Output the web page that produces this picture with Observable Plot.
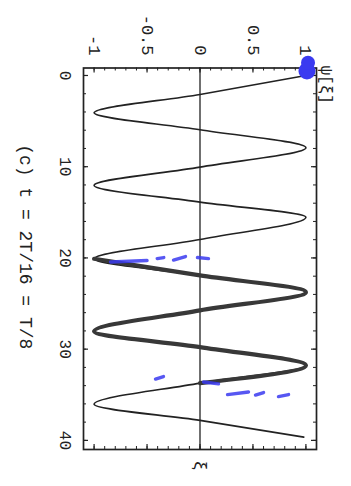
<!DOCTYPE html>
<html><head><meta charset="utf-8">
<script src="https://cdn.jsdelivr.net/npm/d3@7"></script>
<script src="https://cdn.jsdelivr.net/npm/@observablehq/plot@0.6"></script>
<style>html,body{margin:0;padding:0;background:#fff;overflow:hidden}</style>
</head><body><div id="chart"></div>
<script>
// wave psi(xi): extrema and zero crossings
const xiValues  = [0, 2.08, 4.09, 5.95, 7.92, 10.05, 12.05, 13.88, 15.53, 17.98, 20.09, 21.92, 23.75, 25.75, 28.05, 29.78, 31.78, 33.72, 36.05, 37.81, 39.64];
const psiValues = [1, 0, -1, 0, 1, 0, -1, 0, 1, 0, -1, 0, 1, 0, -1, 0, 1, 0, -1, 0, 0.98];
// stretch of the curve drawn with a heavy stroke
const thickFrom = 20.09, thickTo = 33.72;

// hand-drawn blue pen strokes on the scan (xi, psi pairs)
const penXi  = [[20.45, 20.28], [20.07, 19.96], [20.23, 19.85], [19.96, 20.07], [33.28, 33.0], [33.6, 33.8], [34.98, 34.70], [35.03, 34.76], [35.2, 34.98]];
const penPsi = [[-0.845, -0.50], [-0.404, -0.342], [-0.25, -0.137], [-0.024, 0.08], [-0.42, -0.345], [0.033, 0.175], [0.26, 0.458], [0.524, 0.60], [0.741, 0.836]];
const blobXi  = [-0.5, -1.4];
const blobPsi = [1.01, 1.02];

// ticks and labels
const psiTickValues = [-1, -0.5, 0, 0.5, 1];
const psiTickLabels = ["-1", "-0.5", "0", "0.5", "1"];
const psiMinorTicks = d3.range(-10, 11).map(i => i / 10);
const xiTickValues = [0, 10, 20, 30, 40];
const xiTickLabels = ["0", "10", "20", "30", "40"];
const xiMinorTicks = d3.range(0, 21).map(i => i * 2);
const yLabel = "ψ[ξ]";
const xLabel = "ξ";
const caption = "(c) t = 2T/16 = T/8";

const W = 351, H = 486;
const mL = 83, mR = 35, mT = 67.5, mB = 37;
const FW = W - mL - mR, FH = H - mT - mB;
const ink = "#222";
const blue = "#3a3af0";

const wave = xiValues.map((x, i) => ({xi: x, psi: psiValues[i]}));
const thick = wave.filter(d => d.xi >= thickFrom && d.xi <= thickTo);
const pen = [];
penXi.forEach((seg, k) => seg.forEach((x, j) => pen.push({id: k, xi: x, psi: penPsi[k][j]})));
const blobs = blobXi.map((x, i) => ({xi: x, psi: blobPsi[i]}));
const psiLab = psiTickValues.map((v, i) => ({v, t: psiTickLabels[i]}));
const xiLab = xiTickValues.map((v, i) => ({v, t: xiTickLabels[i]}));
const psiMajor = psiMinorTicks.filter(v => Math.abs(v * 2 - Math.round(v * 2)) < 1e-9);
const xiMajor = xiMinorTicks.filter(v => v % 10 === 0);

const plot = Plot.plot({
  width: W, height: H,
  marginLeft: mL, marginRight: mR, marginTop: mT, marginBottom: mB,
  x: {domain: [-1.1, 1.1], axis: null},
  y: {domain: [-0.82, 41], reverse: true, axis: null},
  style: {fontFamily: "'Liberation Mono', 'Courier New', monospace", background: "#fff", color: ink, overflow: "visible"},
  marks: [
    Plot.ruleX([0], {stroke: "#333", strokeWidth: 1.4}),
    // inward frame ticks on all four sides
    Plot.tickX(psiMinorTicks, {x: d => d, insetBottom: FH - 3, stroke: ink, strokeWidth: 1}),
    Plot.tickX(psiMinorTicks, {x: d => d, insetTop: FH - 3, stroke: ink, strokeWidth: 1}),
    Plot.tickX(psiMajor, {x: d => d, insetBottom: FH - 5, stroke: ink, strokeWidth: 1.2}),
    Plot.tickX(psiMajor, {x: d => d, insetTop: FH - 5, stroke: ink, strokeWidth: 1.2}),
    Plot.tickY(xiMinorTicks, {y: d => d, insetRight: FW - 3, stroke: ink, strokeWidth: 1}),
    Plot.tickY(xiMinorTicks, {y: d => d, insetLeft: FW - 3, stroke: ink, strokeWidth: 1}),
    Plot.tickY(xiMajor, {y: d => d, insetRight: FW - 5, stroke: ink, strokeWidth: 1.2}),
    Plot.tickY(xiMajor, {y: d => d, insetLeft: FW - 5, stroke: ink, strokeWidth: 1.2}),
    Plot.frame({stroke: ink, strokeWidth: 1.7}),
    Plot.line(wave, {x: "psi", y: "xi", curve: "monotone-y", stroke: ink, strokeWidth: 1.6}),
    Plot.line(thick, {x: "psi", y: "xi", curve: "monotone-y", stroke: "#383838", strokeWidth: 4.2}),
    Plot.line(pen, {x: "psi", y: "xi", z: "id", stroke: blue, strokeWidth: 3.4, strokeOpacity: 0.85, strokeLinecap: "round"}),
    Plot.dot(blobs.slice(0, 1), {x: "psi", y: "xi", r: 8.5, fill: blue}),
    Plot.dot(blobs.slice(1), {x: "psi", y: "xi", r: 7, fill: blue}),
    // labels (rotated 90°)
    Plot.text(psiLab, {x: "v", text: "t", frameAnchor: "top", dy: -12.5, rotate: 90, textAnchor: "end", lineAnchor: "middle", fontSize: 17, fill: ink}),
    Plot.text(xiLab, {y: "v", text: "t", frameAnchor: "left", dx: -18, rotate: 90, textAnchor: "middle", lineAnchor: "middle", fontSize: 16, fill: ink}),
    Plot.text([yLabel], {text: d => d, frameAnchor: "top-right", dx: 10, dy: -2.5, rotate: 90, textAnchor: "start", lineAnchor: "middle", fontSize: 16, fill: ink}),
    Plot.text([{psi: 0, t: xLabel}], {x: "psi", text: "t", frameAnchor: "bottom", dy: 16, rotate: 90, textAnchor: "middle", lineAnchor: "middle", fontSize: 17, fill: ink}),
    Plot.text([caption], {text: d => d, frameAnchor: "left", dx: -58, dy: -12, rotate: 90, textAnchor: "middle", lineAnchor: "middle", fontSize: 18, fill: ink})
  ]
});
plot.setAttribute("id", "plot");
document.getElementById("chart").appendChild(plot);
</script>
</body></html>
